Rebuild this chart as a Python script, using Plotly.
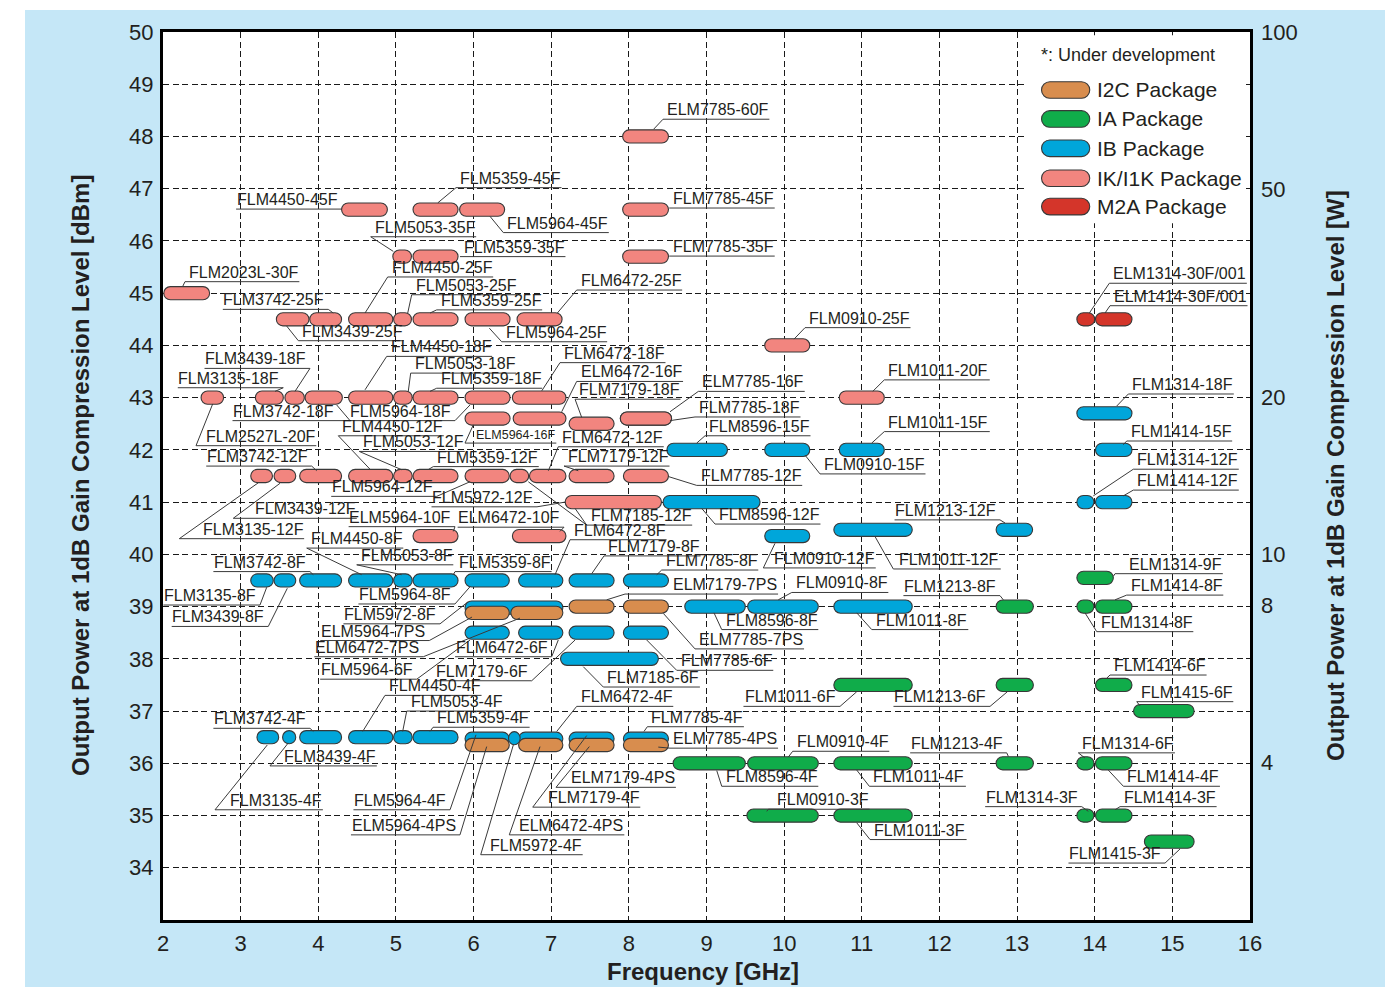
import math
import plotly.graph_objects as go

# ---------------- data ----------------
# IK/I1K package (pink)
ik_name = ["ELM7785-60F", "FLM4450-45F", "FLM5359-45F", "FLM5964-45F", "FLM7785-45F",
           "FLM5053-35F", "FLM5359-35F", "FLM7785-35F", "FLM2023L-30F",
           "FLM3439-25F", "FLM3742-25F", "FLM4450-25F", "FLM5053-25F", "FLM5359-25F",
           "FLM5964-25F", "FLM6472-25F", "FLM0910-25F",
           "FLM2527L-20F", "FLM3135-18F", "FLM3439-18F", "FLM3742-18F", "FLM4450-18F",
           "FLM5053-18F", "FLM5359-18F", "FLM5964-18F", "FLM6472-18F", "FLM1011-20F",
           "ELM5964-16F", "ELM6472-16F", "FLM7179-18F", "FLM7785-18F", "ELM7785-16F",
           "FLM3135-12F", "FLM3439-12F", "FLM3742-12F", "FLM4450-12F", "FLM5053-12F",
           "FLM5359-12F", "FLM5964-12F", "FLM5972-12F", "FLM6472-12F", "FLM7179-12F",
           "FLM7785-12F", "FLM7185-12F", "ELM5964-10F", "ELM6472-10F"]
ik_lo = [7.92, 4.30, 5.22, 5.82, 7.92,
         4.96, 5.22, 7.92, 2.01,
         3.46, 3.89, 4.39, 4.97, 5.22,
         5.89, 6.56, 9.75,
         2.49, 3.19, 3.57, 3.83, 4.39,
         4.97, 5.22, 5.89, 6.50, 10.71,
         5.89, 6.51, 7.23, 7.89, 7.89,
         3.13, 3.43, 3.76, 4.39, 4.97,
         5.22, 5.89, 6.47, 6.72, 7.23,
         7.93, 7.18, 5.22, 6.50]
ik_hi = [8.51, 4.89, 5.80, 6.40, 8.51,
         5.20, 5.80, 8.51, 2.60,
         3.88, 4.30, 4.96, 5.20, 5.80,
         6.47, 7.14, 10.33,
         2.78, 3.55, 3.82, 4.31, 4.96,
         5.21, 5.80, 6.47, 7.19, 11.29,
         6.47, 7.19, 7.81, 8.55, 8.55,
         3.41, 3.71, 4.30, 4.96, 5.21,
         5.80, 6.46, 6.71, 7.19, 7.81,
         8.51, 8.42, 5.80, 7.19]
ik_dbm = [48.0, 46.6, 46.6, 46.6, 46.6,
          45.7, 45.7, 45.7, 45.0,
          44.5, 44.5, 44.5, 44.5, 44.5,
          44.5, 44.5, 44.0,
          43.0, 43.0, 43.0, 43.0, 43.0,
          43.0, 43.0, 43.0, 43.0, 43.0,
          42.6, 42.6, 42.5, 42.6, 42.6,
          41.5, 41.5, 41.5, 41.5, 41.5,
          41.5, 41.5, 41.5, 41.5, 41.5,
          41.5, 41.0, 40.35, 40.35]

# IB package (blue)
ib_name = ["FLM8596-15F", "FLM0910-15F", "FLM1011-15F", "FLM1314-18F", "FLM1414-15F",
           "FLM8596-12F", "FLM1314-12F", "FLM1414-12F", "FLM0910-12F", "FLM1011-12F",
           "FLM1213-12F",
           "FLM3135-8F", "FLM3439-8F", "FLM3742-8F", "FLM4450-8F", "FLM5053-8F",
           "FLM5359-8F", "FLM5964-8F", "FLM6472-8F", "FLM7179-8F", "FLM7785-8F",
           "FLM5972-8F", "FLM8596-8F", "FLM0910-8F", "FLM1011-8F",
           "FLM5964-6F", "FLM6472-6F", "FLM7179-6F", "FLM7785-6F", "FLM7185-6F",
           "FLM3135-4F", "FLM3439-4F", "FLM3742-4F", "FLM4450-4F", "FLM5053-4F",
           "FLM5359-4F", "FLM5964-4F", "FLM6472-4F", "FLM7179-4F", "FLM7785-4F",
           "FLM5972-4F"]
ib_lo = [8.49, 9.75, 10.71, 13.77, 14.01,
         8.44, 13.77, 14.01, 9.75, 10.64,
         12.73,
         3.13, 3.43, 3.76, 4.39, 4.97,
         5.22, 5.89, 6.58, 7.23, 7.93,
         5.89, 8.72, 9.53, 10.64,
         5.89, 6.58, 7.23, 7.93, 7.12,
         3.21, 3.54, 3.76, 4.39, 4.97,
         5.22, 5.89, 6.58, 7.23, 7.93,
         6.45]
ib_hi = [9.27, 10.33, 11.29, 14.48, 14.48,
         9.69, 13.99, 14.48, 10.33, 11.65,
         13.20,
         3.42, 3.71, 4.30, 4.96, 5.21,
         5.80, 6.46, 7.15, 7.81, 8.51,
         7.15, 9.50, 10.44, 11.65,
         6.46, 7.15, 7.81, 8.51, 8.38,
         3.49, 3.71, 4.30, 4.96, 5.21,
         5.80, 6.46, 7.15, 7.81, 8.51,
         6.60]
ib_dbm = [42.0, 42.0, 42.0, 42.7, 42.0,
          41.0, 41.0, 41.0, 40.35, 40.47,
          40.47,
          39.5, 39.5, 39.5, 39.5, 39.5,
          39.5, 39.5, 39.5, 39.5, 39.5,
          38.98, 39.0, 39.0, 39.0,
          38.5, 38.5, 38.5, 38.5, 38.0,
          36.5, 36.5, 36.5, 36.5, 36.5,
          36.5, 36.47, 36.47, 36.47, 36.47,
          36.48]

# I2C package (orange)
i2c_name = ["ELM5964-7PS", "ELM6472-7PS", "ELM7179-7PS", "ELM7785-7PS",
            "ELM5964-4PS", "ELM6472-4PS", "ELM7179-4PS", "ELM7785-4PS"]
i2c_lo = [5.89, 6.48, 7.23, 7.93, 5.89, 6.58, 7.23, 7.93]
i2c_hi = [6.46, 7.15, 7.81, 8.51, 6.46, 7.15, 7.81, 8.51]
i2c_dbm = [38.88, 38.88, 39.0, 39.0, 36.35, 36.35, 36.35, 36.35]

# IA package (green)
ia_name = ["ELM1314-9F", "FLM1213-8F", "FLM1314-8F", "FLM1414-8F",
           "FLM1011-6F", "FLM1213-6F", "FLM1414-6F", "FLM1415-6F",
           "FLM8596-4F", "FLM0910-4F", "FLM1011-4F", "FLM1213-4F", "FLM1314-6F", "FLM1414-4F",
           "FLM0910-3F", "FLM1011-3F", "FLM1314-3F", "FLM1414-3F", "FLM1415-3F"]
ia_lo = [13.77, 12.73, 13.77, 14.01,
         10.64, 12.73, 14.01, 14.50,
         8.57, 9.53, 10.64, 12.73, 13.77, 14.01,
         9.52, 10.64, 13.77, 14.01, 14.64]
ia_hi = [14.24, 13.21, 13.99, 14.48,
         11.65, 13.21, 14.48, 15.28,
         9.50, 10.44, 11.65, 13.21, 13.99, 14.48,
         10.44, 11.65, 13.99, 14.48, 15.28]
ia_dbm = [39.55, 39.0, 39.0, 39.0,
          37.5, 37.5, 37.5, 37.0,
          36.0, 36.0, 36.0, 36.0, 36.0, 36.0,
          35.0, 35.0, 35.0, 35.0, 34.5]

# M2A package (red)
m2a_name = ["ELM1314-30F/001", "ELM1414-30F/001"]
m2a_lo = [13.77, 14.01]
m2a_hi = [14.00, 14.48]
m2a_dbm = [44.5, 44.5]

legend_text = ["I2C Package", "IA Package", "IB Package", "IK/I1K Package", "M2A Package"]
x_ticks = list(range(2, 17))
y_ticks = list(range(34, 51))
right_watts = [100, 50, 20, 10, 8, 4]

# ---------------- styling / layout ----------------
PAGE_OFF = 8                      # body margin of the page
W, H = 1388, 979
ML, MT = 155, 24
PW, PH = 1087, 888
MR, MB = W - ML - PW, H - MT - PH
X0, X1, Y0, Y1 = 2, 16, 33, 50
PXF = PW / (X1 - X0)   # px per GHz
PXP = PH / (Y1 - Y0)   # px per dB
PL, PT = ML + PAGE_OFF, MT + PAGE_OFF   # plot left/top in page pixels
PB = PT + PH


def paper_x(px):
    return (px - PL) / PW


def paper_y(py):
    return (PB - py) / PH


FONT = "Liberation Sans, Arial, Helvetica, sans-serif"
TXT = "#231F20"
LINEC = "#3a3a3a"
OUTLINE = "#383838"
COL = {"I2C": "#D88D4E", "IA": "#10AC4A", "IB": "#00A6DA", "IK": "#F2857F", "M2A": "#D4352A"}
BG_BLUE = "#C5E7F7"


# label geometry: knee point (GHz, dBm), side of text, leader end points, optional text edge, size
def lab(kf, kp, side, ends, tf=None, size=16):
    return dict(kf=kf, kp=kp, side=side, ends=ends, tf=tf, size=size)


LABELS = {
    "ELM7785-60F": lab(8.44, 48.33, "R", [(8.32, 48.14)]),
    "FLM5359-45F": lab(5.774, 47.02, "R", [(5.54, 46.73)]),
    "FLM4450-45F": lab(4.30, 46.61, "L", []),
    "FLM7785-45F": lab(8.52, 46.63, "R", []),
    "FLM5053-35F": lab(4.675, 46.08, "R", [(4.966, 45.80)]),
    "FLM5964-45F": lab(6.383, 46.16, "R", [(6.212, 46.47)]),
    "FLM5359-35F": lab(5.825, 45.70, "R", []),
    "FLM7785-35F": lab(8.52, 45.71, "R", []),
    "FLM2023L-30F": lab(2.283, 45.22, "R", [(2.254, 45.13)]),
    "FLM4450-25F": lab(4.894, 45.31, "R", [(4.602, 44.62)]),
    "FLM5053-25F": lab(5.203, 44.97, "R", [(5.152, 44.62)]),
    "FLM5359-25F": lab(5.525, 44.68, "R", [(5.439, 44.62)]),
    "FLM3742-25F": lab(4.129, 44.69, "L", [(4.193, 44.62)]),
    "FLM3439-25F": lab(3.743, 44.09, "R", [(3.593, 44.37)]),
    "FLM5964-25F": lab(6.362, 44.07, "R", [(6.203, 44.33)]),
    "FLM6472-25F": lab(7.328, 45.06, "R", [(7.079, 44.62)]),
    "FLM0910-25F": lab(10.269, 44.34, "R", [(10.127, 44.12)]),
    "ELM1314-30F/001": lab(14.188, 45.19, "R", [(13.931, 44.62)]),
    "ELM1414-30F/001": lab(14.197, 44.76, "R", [(14.133, 44.62)]),
    "FLM4450-18F": lab(4.881, 43.79, "R", [(4.602, 43.15)]),
    "FLM3439-18F": lab(3.893, 43.56, "L", [(3.70, 43.12)]),
    "FLM5053-18F": lab(5.19, 43.47, "R", [(5.159, 43.12)]),
    "FLM6472-18F": lab(7.113, 43.67, "R", [(6.878, 43.13)]),
    "ELM6472-16F": lab(7.328, 43.31, "R", [(7.135, 42.73)]),
    "FLM3135-18F": lab(3.549, 43.19, "L", [(3.443, 43.12)]),
    "FLM5359-18F": lab(5.525, 43.18, "R", [(5.439, 43.12)]),
    "FLM7179-18F": lab(7.307, 42.97, "R", [(7.393, 42.62)]),
    "ELM7785-16F": lab(8.895, 43.12, "R", [(8.53, 42.73)]),
    "FLM1011-20F": lab(11.29, 43.34, "R", [(11.141, 43.12)]),
    "FLM1314-18F": lab(14.433, 43.07, "R", [(14.284, 42.84)]),
    "FLM3742-18F": lab(4.409, 42.56, "L", [(4.237, 42.86)], tf=4.215),
    "FLM5964-18F": lab(5.761, 42.56, "L", [(5.954, 42.86)]),
    "FLM7785-18F": lab(8.852, 42.63, "R", [(8.53, 42.56)]),
    "FLM4450-12F": lab(4.258, 42.27, "R", [(4.666, 41.63)]),
    "ELM5964-16F": lab(5.89, 42.13, "R", [(5.997, 42.48)], tf=6.02, size=12.5),
    "FLM8596-15F": lab(8.981, 42.27, "R", [(8.874, 42.13)]),
    "FLM1011-15F": lab(11.29, 42.35, "R", [(11.128, 42.13)]),
    "FLM2527L-20F": lab(2.425, 42.08, "R", [(2.64, 42.88)], tf=2.54),
    "FLM5053-12F": lab(4.528, 41.97, "R", [(5.074, 41.62)]),
    "FLM6472-12F": lab(7.091, 42.06, "R", [(6.963, 41.60)]),
    "FLM1414-15F": lab(14.412, 42.17, "R", [(14.369, 42.10)]),
    "FLM3742-12F": lab(3.915, 41.69, "L", [(3.98, 41.60)]),
    "FLM5359-12F": lab(5.481, 41.68, "R", [(5.413, 41.62)]),
    "FLM7179-12F": lab(7.165, 41.69, "R", [(7.349, 41.60)]),
    "FLM0910-15F": lab(10.462, 41.54, "R", [(10.269, 41.90)]),
    "FLM1314-12F": lab(14.497, 41.63, "R", [(13.982, 41.12)]),
    "FLM7785-12F": lab(8.874, 41.32, "R", [(8.508, 41.49)]),
    "FLM1414-12F": lab(14.497, 41.23, "R", [(14.369, 41.12)]),
    "FLM5964-12F": lab(5.525, 41.11, "L", [(5.954, 41.39)]),
    "FLM5972-12F": lab(6.817, 40.91, "L", [(7.178, 41.0)]),
    "FLM3439-12F": lab(2.905, 40.69, "R", [(3.507, 41.36)], tf=3.176),
    "FLM7185-12F": lab(7.457, 40.56, "R", [(7.307, 40.88), (6.705, 41.39)]),
    "FLM8596-12F": lab(9.11, 40.58, "R", [(8.938, 40.88)], tf=9.148),
    "FLM1213-12F": lab(12.78, 40.66, "L", [(12.845, 40.60)], tf=12.742),
    "FLM3135-12F": lab(2.21, 40.30, "R", [(3.227, 41.37)], tf=2.498),
    "ELM5964-10F": lab(5.761, 40.53, "L", [(5.739, 40.44)]),
    "ELM6472-10F": lab(7.165, 40.52, "L", [(7.113, 40.44)]),
    "FLM4450-8F": lab(3.851, 40.12, "R", [(4.559, 39.61)]),
    "FLM5053-8F": lab(4.495, 39.80, "R", [(5.074, 39.61)]),
    "FLM6472-8F": lab(7.242, 40.28, "R", [(7.049, 39.61)]),
    "FLM7179-8F": lab(7.68, 39.97, "R", [(7.522, 39.63)]),
    "FLM0910-12F": lab(9.732, 39.74, "R", [(9.882, 40.21)], tf=9.86),
    "FLM1011-12F": lab(11.406, 39.72, "R", [(11.171, 40.34)], tf=11.47),
    "ELM1314-9F": lab(14.262, 39.63, "R", [(14.24, 39.58)], tf=14.433),
    "FLM3742-8F": lab(3.893, 39.67, "L", [(3.936, 39.61)]),
    "FLM5359-8F": lab(5.761, 39.67, "R", [(5.739, 39.61)]),
    "FLM7785-8F": lab(8.423, 39.70, "R", [(8.359, 39.61)]),
    "ELM7179-7PS": lab(7.951, 39.24, "R", [(7.715, 39.13)], tf=8.556),
    "FLM0910-8F": lab(10.098, 39.27, "R", [(9.925, 39.13)]),
    "FLM1213-8F": lab(12.78, 39.21, "L", [(12.823, 39.13)]),
    "FLM1414-8F": lab(14.412, 39.22, "R", [(14.262, 39.13)]),
    "FLM3135-8F": lab(3.249, 39.03, "L", [(3.336, 39.37)]),
    "FLM5964-8F": lab(5.761, 39.05, "L", [(5.954, 39.38)]),
    "FLM5972-8F": lab(5.568, 38.67, "L", [(5.928, 39.09)]),
    "FLM3439-8F": lab(3.356, 38.62, "L", [(3.601, 39.35)]),
    "FLM8596-8F": lab(9.196, 38.56, "R", [(9.097, 38.88)]),
    "FLM1011-8F": lab(11.128, 38.56, "R", [(10.935, 38.88)]),
    "FLM1314-8F": lab(14.026, 38.52, "R", [(13.875, 38.88)]),
    "ELM5964-7PS": lab(5.43, 38.35, "L", [(5.98, 38.80)]),
    "ELM6472-7PS": lab(5.353, 38.04, "L", [(6.598, 38.78)]),
    "FLM6472-6F": lab(7.006, 38.04, "L", [(7.091, 38.36)]),
    "ELM7785-7PS": lab(8.852, 38.19, "R", [(8.444, 38.87)]),
    "FLM7785-6F": lab(8.616, 37.78, "R", [(8.23, 38.36)]),
    "FLM5964-6F": lab(5.268, 37.61, "L", [(5.954, 38.36)]),
    "FLM7179-6F": lab(6.749, 37.58, "L", [(7.307, 38.36)]),
    "FLM1414-6F": lab(14.197, 37.69, "R", [(14.155, 37.63)]),
    "FLM7185-6F": lab(7.671, 37.46, "R", [(7.413, 37.85)]),
    "FLM4450-4F": lab(4.859, 37.30, "R", [(4.572, 36.61)]),
    "FLM1011-6F": lab(10.72, 37.09, "L", [(10.935, 37.37)]),
    "FLM1213-6F": lab(12.652, 37.09, "L", [(12.875, 37.37)]),
    "FLM1415-6F": lab(14.541, 37.18, "R", [(14.584, 37.10)]),
    "FLM6472-4F": lab(7.328, 37.09, "R", [(7.071, 36.61)]),
    "FLM5053-4F": lab(5.139, 37.00, "R", [(5.087, 36.61)]),
    "FLM3742-4F": lab(3.893, 36.67, "L", [(3.936, 36.61)]),
    "FLM5359-4F": lab(5.478, 36.69, "R", [(5.439, 36.61)]),
    "FLM7785-4F": lab(8.238, 36.70, "R", [(8.195, 36.61)]),
    "ELM7785-4PS": lab(8.53, 36.29, "R", [(8.379, 36.31)], tf=8.556),
    "FLM0910-4F": lab(10.11, 36.23, "R", [(10.054, 36.12)]),
    "FLM1213-4F": lab(12.867, 36.20, "L", [(12.888, 36.13)]),
    "FLM1314-6F": lab(13.789, 36.20, "R", [(13.875, 36.10)]),
    "FLM3439-4F": lab(3.378, 35.95, "R", [(3.614, 36.39)], tf=3.549),
    "ELM7179-4PS": lab(7.062, 35.54, "R", [(7.491, 36.32)], tf=7.24),
    "FLM8596-4F": lab(9.196, 35.56, "R", [(9.132, 35.86)]),
    "FLM1011-4F": lab(11.097, 35.56, "R", [(10.935, 35.87)]),
    "FLM1414-4F": lab(14.369, 35.56, "R", [(14.175, 35.87)]),
    "FLM3135-4F": lab(2.67, 35.11, "R", [(3.343, 36.35)], tf=2.854),
    "FLM5964-4F": lab(5.697, 35.11, "L", [(6.031, 36.545)]),
    "FLM7179-4F": lab(6.762, 35.16, "R", [(7.457, 36.53)], tf=6.942),
    "FLM0910-3F": lab(9.796, 35.12, "R", [(9.776, 35.08)], tf=9.895),
    "FLM1314-3F": lab(13.833, 35.17, "L", [(13.918, 35.08)]),
    "FLM1414-3F": lab(14.326, 35.17, "R", [(14.262, 35.11)]),
    "ELM5964-4PS": lab(5.825, 34.63, "L", [(6.169, 36.32)]),
    "ELM6472-4PS": lab(6.46, 34.63, "R", [(6.856, 36.32)], tf=6.576),
    "FLM1011-3F": lab(11.106, 34.54, "R", [(10.935, 34.86)]),
    "FLM5972-4F": lab(6.092, 34.25, "R", [(6.512, 36.35)], tf=6.20),
    "FLM1415-3F": lab(14.906, 34.09, "L", [(15.099, 34.36)]),
}

CW = {"E": 667, "L": 556, "M": 833, "F": 611, "P": 667, "S": 667, "-": 333, "/": 278}


def text_px(s, size):
    return sum(CW.get(c, 556) for c in s) * size / 1000.0


def pill_path(lo, hi, p, hh_px):
    h = hh_px / PXP
    rx = min(hh_px / PXF, (hi - lo) / 2.0)
    k = 0.5523
    a, b = lo + rx, hi - rx
    t, bt = p + h, p - h
    f = lambda v: f"{v:.5f}"
    return (f"M{f(a)},{f(t)} L{f(b)},{f(t)} "
            f"C{f(b + k * rx)},{f(t)} {f(hi)},{f(p + k * h)} {f(hi)},{f(p)} "
            f"C{f(hi)},{f(p - k * h)} {f(b + k * rx)},{f(bt)} {f(b)},{f(bt)} "
            f"L{f(a)},{f(bt)} "
            f"C{f(a - k * rx)},{f(bt)} {f(lo)},{f(p - k * h)} {f(lo)},{f(p)} "
            f"C{f(lo)},{f(p + k * h)} {f(a - k * rx)},{f(t)} {f(a)},{f(t)} Z")


shapes = []
annotations = []

# backgrounds: light-blue panel and white plotting area
shapes.append(dict(type="rect", xref="paper", yref="paper", layer="below",
                   x0=paper_x(25), x1=paper_x(1385), y0=paper_y(1000), y1=paper_y(10),
                   fillcolor=BG_BLUE, line=dict(width=0)))
shapes.append(dict(type="rect", xref="paper", yref="paper", layer="below",
                   x0=0, x1=1, y0=0, y1=1, fillcolor="white", line=dict(width=0)))

# legend box (covers grid)
shapes.append(dict(type="rect", xref="x", yref="y", layer="above",
                   x0=13.13, x1=15.94, y0=46.34, y1=49.94, fillcolor="white", line=dict(width=0)))

groups = [("IK", ik_name, ik_lo, ik_hi, ik_dbm),
          ("IB", ib_name, ib_lo, ib_hi, ib_dbm),
          ("I2C", i2c_name, i2c_lo, i2c_hi, i2c_dbm),
          ("IA", ia_name, ia_lo, ia_hi, ia_dbm),
          ("M2A", m2a_name, m2a_lo, m2a_hi, m2a_dbm)]

for pkg, names, los, his, dbms in groups:
    for n, lo, hi, p in zip(names, los, his, dbms):
        shapes.append(dict(type="path", xref="x", yref="y", layer="above",
                           path=pill_path(lo, hi, p, 6.6),
                           fillcolor=COL[pkg], line=dict(color=OUTLINE, width=1.1)))

# labels, underlines and leaders
for name, L in LABELS.items():
    size = L["size"]
    w = text_px(name, size) / PXF
    pad = 3.0 / PXF
    if L["side"] == "R":
        tx = L["tf"] if L["tf"] is not None else L["kf"] + pad
        ux0, ux1 = L["kf"], tx + w + 2.0 / PXF
        xa = "left"
    else:
        tx = L["tf"] if L["tf"] is not None else L["kf"] - pad
        ux0, ux1 = tx - w - 2.0 / PXF, L["kf"]
        xa = "right"
    shapes.append(dict(type="line", xref="x", yref="y", layer="above",
                       x0=ux0, x1=ux1, y0=L["kp"], y1=L["kp"],
                       line=dict(color=LINEC, width=1)))
    for ex, ey in L["ends"]:
        shapes.append(dict(type="line", xref="x", yref="y", layer="above",
                           x0=L["kf"], y0=L["kp"], x1=ex, y1=ey,
                           line=dict(color=LINEC, width=1)))
    annotations.append(dict(x=tx, y=L["kp"], xref="x", yref="y", text=name,
                            showarrow=False, xanchor=xa, yanchor="bottom",
                            borderpad=0, yshift=0,
                            font=dict(family=FONT, size=size, color=TXT)))

# legend
leg_pkgs = ["I2C", "IA", "IB", "IK", "M2A"]
leg_y = [48.89, 48.335, 47.774, 47.2, 46.657]
for pkg, txt, yy in zip(leg_pkgs, legend_text, leg_y):
    shapes.append(dict(type="path", xref="x", yref="y", layer="above",
                       path=pill_path(13.315, 13.936, yy, 8.3),
                       fillcolor=COL[pkg], line=dict(color=OUTLINE, width=1.1)))
    annotations.append(dict(x=14.02, y=yy, xref="x", yref="y", text=txt, showarrow=False,
                            xanchor="left", yanchor="middle", borderpad=0,
                            font=dict(family=FONT, size=21, color=TXT)))
annotations.append(dict(x=13.295, y=49.56, xref="x", yref="y", text="*: Under development",
                        showarrow=False, xanchor="left", yanchor="middle", borderpad=0,
                        font=dict(family=FONT, size=18, color=TXT)))

# axis titles
annotations.append(dict(x=paper_x(80), y=0.5, xref="paper", yref="paper", textangle=-90,
                        text="<b>Output Power at 1dB Gain Compression Level [dBm]</b>",
                        showarrow=False, xanchor="center", yanchor="middle",
                        font=dict(family=FONT, size=24, color=TXT)))
annotations.append(dict(x=paper_x(1335), y=0.5, xref="paper", yref="paper", textangle=-90,
                        text="<b>Output Power at 1dB Gain Compression Level [W]</b>",
                        showarrow=False, xanchor="center", yanchor="middle",
                        font=dict(family=FONT, size=24, color=TXT)))
annotations.append(dict(x=paper_x(703), y=paper_y(971), xref="paper", yref="paper",
                        text="<b>Frequency [GHz]</b>", showarrow=False,
                        xanchor="center", yanchor="middle",
                        font=dict(family=FONT, size=24, color=TXT)))

right_vals = [10 * math.log10(wt) + 30 for wt in right_watts]

fig = go.Figure()
fig.add_trace(go.Scatter(x=[X0, X1], y=[Y0, Y1], mode="markers", marker=dict(opacity=0),
                         hoverinfo="skip", showlegend=False))
fig.add_trace(go.Scatter(x=[X0, X1], y=[Y0, Y1], mode="markers", marker=dict(opacity=0),
                         hoverinfo="skip", showlegend=False, yaxis="y2"))

grid = dict(showgrid=True, gridcolor="#1a1a1a", gridwidth=1, griddash="6px,3.5px")
fig.update_layout(
    width=W, height=H, margin=dict(l=ML, r=MR, t=MT, b=MB, autoexpand=False),
    paper_bgcolor="white", plot_bgcolor="white", showlegend=False,
    font=dict(family=FONT, color=TXT),
    xaxis=dict(range=[X0, X1], tickvals=x_ticks, ticktext=[str(v) for v in x_ticks],
               showline=True, linewidth=3, linecolor="black", mirror=True,
               zeroline=False, ticks="", ticklabelstandoff=2,
               tickfont=dict(family=FONT, size=22, color=TXT), **grid),
    yaxis=dict(range=[Y0, Y1], tickvals=y_ticks, ticktext=[str(v) for v in y_ticks],
               showline=True, linewidth=3, linecolor="black", mirror=True,
               zeroline=False, ticks="", ticklabelstandoff=2,
               tickfont=dict(family=FONT, size=22, color=TXT), **grid),
    yaxis2=dict(range=[Y0, Y1], overlaying="y", side="right", tickvals=right_vals,
                ticktext=[str(v) for v in right_watts], showgrid=False, showline=False,
                zeroline=False, ticks="", ticklabelstandoff=10,
                tickfont=dict(family=FONT, size=22, color=TXT)),
    shapes=shapes, annotations=annotations,
)

fig.write_html("out.html")
